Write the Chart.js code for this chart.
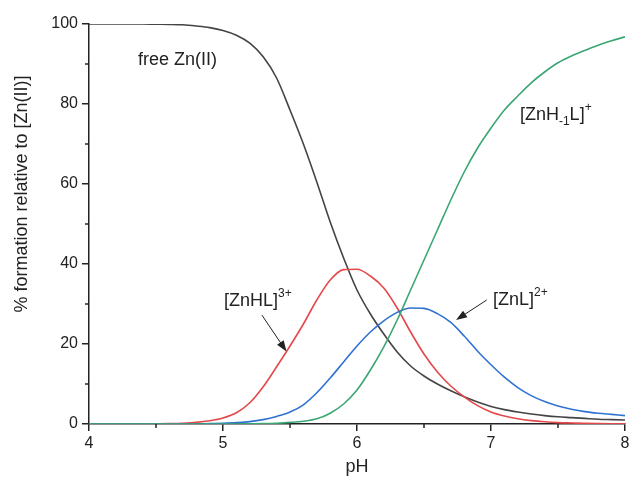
<!DOCTYPE html>
<html>
<head>
<meta charset="utf-8">
<script src="https://cdn.jsdelivr.net/npm/chart.js@4.4.1/dist/chart.umd.min.js"></script>
<style>
  html, body { margin: 0; padding: 0; background: #fff; }
  canvas { display: block; }
</style>
</head>
<body>
<canvas id="speciation" width="629" height="482"></canvas>
<script>
// pH grid (0.1 steps)
const pH = [4.0, 4.1, 4.2, 4.3, 4.4, 4.5, 4.6, 4.7, 4.8, 4.9,
            5.0, 5.1, 5.2, 5.3, 5.4, 5.5, 5.6, 5.7, 5.8, 5.9,
            6.0, 6.1, 6.2, 6.3, 6.4, 6.5, 6.6, 6.7, 6.8, 6.9,
            7.0, 7.1, 7.2, 7.3, 7.4, 7.5, 7.6, 7.7, 7.8, 7.9, 8.0];

// % formation relative to Zn(II)
const freeZn = [100, 100, 100, 100, 100, 99.95, 99.9, 99.8, 99.5, 99.1,
                98.4, 97.2, 95.2, 91.8, 86.5, 78.5, 70, 60.5, 50.5, 41.5,
                33.5, 27.5, 22.5, 18, 14.5, 12, 10, 8.3, 6.8, 5.5,
                4.4, 3.6, 3.0, 2.5, 2.1, 1.8, 1.6, 1.4, 1.2, 1.1, 1.0];
const znHL = [0, 0, 0, 0.01, 0.02, 0.05, 0.1, 0.2, 0.4, 0.8,
              1.5, 2.8, 5.3, 9.3, 14.3, 19.5, 25, 31, 36, 38.6,
              38.7, 37, 34, 29, 23, 17.5, 13, 9.5, 6.8, 4.6,
              3, 2, 1.3, 0.85, 0.55, 0.35, 0.25, 0.15, 0.1, 0.07, 0.05];
const znL = [0, 0, 0, 0, 0, 0, 0, 0, 0, 0.1,
             0.2, 0.35, 0.6, 1.1, 1.9, 3, 4.8, 7.8, 11.5, 15.5,
             19.5, 23, 25.8, 27.9, 29, 28.9, 27.6, 25.4, 22, 18.2,
             14.8, 11.7, 9.1, 7.1, 5.6, 4.5, 3.7, 3.1, 2.7, 2.4, 2.1];
const znHm1L = [0, 0, 0, 0, 0, 0, 0, 0, 0, 0,
                0, 0, 0.05, 0.1, 0.2, 0.4, 0.7, 1.3, 2.7, 5,
                8.5, 13.5, 19.3, 26, 33.5, 41, 48.5, 56, 63, 69,
                74, 78.5, 82, 85.3, 88, 90.3, 92, 93.4, 94.7, 95.8, 96.8];

const FONT = '"Liberation Sans", Arial, sans-serif';
const INK = '#222';
const Y_TITLE = '% formation relative to [Zn(II)]';

const toPoints = ys => pH.map((x, i) => ({ x: x, y: ys[i] }));

// labels drawn on the plot, anchored in data units (pH, %)
const annotations = [
  { at: [4.366, 89.7], parts: [['free Zn(II)', 'n']] },
  { at: [7.216, 76.0], parts: [['[ZnH', 'n'], ['-1', 'sub'], ['L]', 'n'], ['+', 'sup']] },
  { at: [5.007, 29.5], parts: [['[ZnHL]', 'n'], ['3+', 'sup']] },
  { at: [7.015, 29.7], parts: [['[ZnL]', 'n'], ['2+', 'sup']] }
];
const arrows = [
  { from: [5.291, 27.2], to: [5.474, 18.1] },
  { from: [6.968, 31.0], to: [6.739, 26.0] }
];

const extrasPlugin = {
  id: 'extras',
  afterDraw(chart) {
    const ctx = chart.ctx;
    const xs = chart.scales.x, ys = chart.scales.y;
    ctx.save();
    // minor ticks
    ctx.strokeStyle = INK;
    ctx.lineWidth = 1.5;
    ctx.beginPath();
    [4.5, 5.5, 6.5, 7.5].forEach(v => {
      const px = xs.getPixelForValue(v);
      ctx.moveTo(px, ys.bottom);
      ctx.lineTo(px, ys.bottom + 4);
    });
    [10, 30, 50, 70, 90].forEach(v => {
      const py = ys.getPixelForValue(v);
      ctx.moveTo(xs.left, py);
      ctx.lineTo(xs.left - 4, py);
    });
    ctx.stroke();

    // y axis title (sits a bit above the plot's middle in the original)
    ctx.fillStyle = INK;
    ctx.save();
    ctx.translate(22, ys.getPixelForValue(57.5));
    ctx.rotate(-Math.PI / 2);
    ctx.font = '18px ' + FONT;
    ctx.textAlign = 'center';
    ctx.textBaseline = 'middle';
    ctx.fillText(Y_TITLE, 0, 0);
    ctx.restore();

    // species labels
    ctx.textBaseline = 'alphabetic';
    ctx.textAlign = 'left';
    annotations.forEach(a => {
      let cx = xs.getPixelForValue(a.at[0]);
      const by = ys.getPixelForValue(a.at[1]);
      a.parts.forEach(([t, kind]) => {
        const size = kind === 'n' ? 18 : 12;
        ctx.font = size + 'px ' + FONT;
        const dy = kind === 'sup' ? -9 : (kind === 'sub' ? 5 : 0);
        ctx.fillText(t, cx, by + dy);
        cx += ctx.measureText(t).width;
      });
    });

    // arrows
    ctx.lineWidth = 1;
    arrows.forEach(a => {
      const x1 = xs.getPixelForValue(a.from[0]), y1 = ys.getPixelForValue(a.from[1]);
      const x2 = xs.getPixelForValue(a.to[0]), y2 = ys.getPixelForValue(a.to[1]);
      const ang = Math.atan2(y2 - y1, x2 - x1);
      ctx.beginPath();
      ctx.moveTo(x1, y1);
      ctx.lineTo(x2 - 8 * Math.cos(ang), y2 - 8 * Math.sin(ang));
      ctx.stroke();
      ctx.beginPath();
      ctx.moveTo(x2, y2);
      ctx.lineTo(x2 - 11 * Math.cos(ang) + 4 * Math.sin(ang), y2 - 11 * Math.sin(ang) - 4 * Math.cos(ang));
      ctx.lineTo(x2 - 11 * Math.cos(ang) - 4 * Math.sin(ang), y2 - 11 * Math.sin(ang) + 4 * Math.cos(ang));
      ctx.closePath();
      ctx.fill();
    });
    ctx.restore();
  }
};

function line(data, color) {
  return {
    data: toPoints(data),
    borderColor: color,
    borderWidth: 1.6,
    pointRadius: 0,
    cubicInterpolationMode: 'monotone',
    fill: false
  };
}

new Chart(document.getElementById('speciation'), {
  type: 'line',
  data: {
    datasets: [
      line(znHm1L, '#3aa673'),
      line(znL, '#2f72d2'),
      line(znHL, '#e5484a'),
      line(freeZn, '#444444')
    ]
  },
  options: {
    responsive: false,
    animation: false,
    events: [],
    layout: { padding: { top: 24, right: 4, left: 0, bottom: 0 } },
    plugins: { legend: { display: false }, tooltip: { enabled: false } },
    scales: {
      x: {
        type: 'linear',
        min: 4, max: 8,
        ticks: { stepSize: 1, color: INK, font: { family: FONT, size: 16 }, padding: 3 },
        grid: { drawOnChartArea: false, tickLength: 7, color: INK, lineWidth: 1.5 },
        border: { color: INK, width: 1.5 },
        title: { display: true, text: 'pH', color: INK, font: { family: FONT, size: 18 }, padding: { top: 4, bottom: 4 } },
        afterFit(scale) { scale.height = 58; scale.paddingLeft = 0; scale.paddingRight = 0; }
      },
      y: {
        min: 0, max: 100,
        ticks: { stepSize: 20, color: INK, font: { family: FONT, size: 16 }, padding: 4 },
        grid: { drawOnChartArea: false, tickLength: 7, color: INK, lineWidth: 1.5 },
        border: { color: INK, width: 1.5 },
        afterFit(scale) { scale.width = 89; }
      }
    }
  },
  plugins: [extrasPlugin]
});
</script>
</body>
</html>
